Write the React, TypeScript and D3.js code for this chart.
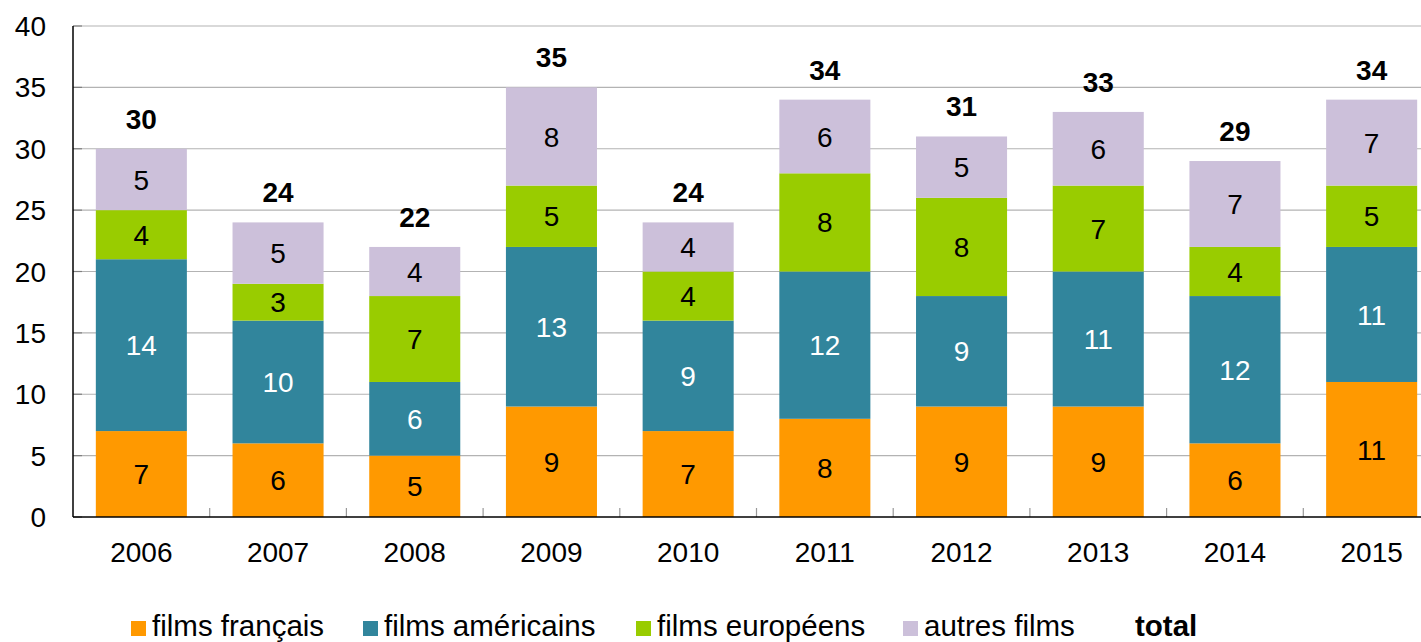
import React, { useEffect, useRef } from "react";
import * as d3 from "d3";

const years = ["2006", "2007", "2008", "2009", "2010", "2011", "2012", "2013", "2014", "2015"];
const francais = [7, 6, 5, 9, 7, 8, 9, 9, 6, 11];
const americains = [14, 10, 6, 13, 9, 12, 9, 11, 12, 11];
const europeens = [4, 3, 7, 5, 4, 8, 8, 7, 4, 5];
const autres = [5, 5, 4, 8, 4, 6, 5, 6, 7, 7];
const totals = [30, 24, 22, 35, 24, 34, 31, 33, 29, 34];
const yTicks = [0, 5, 10, 15, 20, 25, 30, 35, 40];

const seriesNames = ["films français", "films américains", "films européens", "autres films"];
const colors = ["#FF9900", "#31859C", "#99CC00", "#CCC0DA"];
const labelColors = ["#000", "#fff", "#000", "#000"];

const FONT = "'Liberation Sans', Arial, sans-serif";
const FS = 28;

export default function App() {
  const ref = useRef<SVGSVGElement>(null);

  useEffect(() => {
    const svg = d3.select(ref.current);
    svg.selectAll("*").remove();

    const left = 73, right = 1440, top = 26, bottom = 517;
    const x = d3.scaleBand().domain(years).range([left, right]).paddingInner(0.334).paddingOuter(0.167);
    const y = d3.scaleLinear().domain([0, 40]).range([bottom, top]);

    const rows = years.map((yr, i) => ({
      year: yr,
      "films français": francais[i],
      "films américains": americains[i],
      "films européens": europeens[i],
      "autres films": autres[i],
    }));
    const stacked = d3.stack<any>().keys(seriesNames)(rows);

    // gridlines
    svg.append("g").selectAll("line").data(yTicks.filter(t => t > 0)).join("line")
      .attr("x1", left).attr("x2", right)
      .attr("y1", d => y(d)).attr("y2", d => y(d))
      .attr("stroke", "#b3b3b3").attr("stroke-width", 1.2);

    // bars
    stacked.forEach((layer, si) => {
      const g = svg.append("g");
      g.selectAll("rect").data(layer).join("rect")
        .attr("x", (d: any) => x(d.data.year)!)
        .attr("width", x.bandwidth())
        .attr("y", (d: any) => y(d[1]))
        .attr("height", (d: any) => y(d[0]) - y(d[1]))
        .attr("fill", colors[si]);
      g.selectAll("text").data(layer).join("text")
        .attr("x", (d: any) => x(d.data.year)! + x.bandwidth() / 2)
        .attr("y", (d: any) => (y(d[0]) + y(d[1])) / 2)
        .attr("dy", "0.36em")
        .attr("text-anchor", "middle")
        .attr("font-family", FONT).attr("font-size", FS)
        .attr("fill", labelColors[si])
        .text((d: any) => d[1] - d[0]);
    });

    // totals
    svg.append("g").selectAll("text").data(years).join("text")
      .attr("x", d => x(d)! + x.bandwidth() / 2)
      .attr("y", (d, i) => y(totals[i]) - 20)
      .attr("text-anchor", "middle")
      .attr("font-family", FONT).attr("font-size", FS).attr("font-weight", "bold")
      .text((d, i) => totals[i]);

    // y axis
    const ya = svg.append("g");
    ya.selectAll("line.tick").data(yTicks).join("line")
      .attr("x1", left).attr("x2", left + 9)
      .attr("y1", d => y(d)).attr("y2", d => y(d))
      .attr("stroke", "#808080").attr("stroke-width", 1.2);
    ya.selectAll("text").data(yTicks).join("text")
      .attr("x", 46).attr("y", d => y(d))
      .attr("dy", "0.36em").attr("text-anchor", "end")
      .attr("font-family", FONT).attr("font-size", FS)
      .text(d => d);
    ya.append("line").attr("x1", left).attr("x2", left).attr("y1", top).attr("y2", bottom)
      .attr("stroke", "#000").attr("stroke-width", 1.5);

    // x axis
    const xa = svg.append("g");
    const step = x.step();
    xa.selectAll("line").data(d3.range(1, years.length + 1)).join("line")
      .attr("x1", d => left + d * step).attr("x2", d => left + d * step)
      .attr("y1", bottom - 9).attr("y2", bottom)
      .attr("stroke", "#999").attr("stroke-width", 1.2);
    xa.selectAll("text").data(years).join("text")
      .attr("x", d => x(d)! + x.bandwidth() / 2)
      .attr("y", 562)
      .attr("text-anchor", "middle")
      .attr("font-family", FONT).attr("font-size", FS)
      .text(d => d);
    xa.append("line").attr("x1", left).attr("x2", right).attr("y1", bottom).attr("y2", bottom)
      .attr("stroke", "#000").attr("stroke-width", 1.5);

    // legend
    const legendX = [131, 363, 636, 903];
    const lg = svg.append("g");
    seriesNames.forEach((name, i) => {
      lg.append("rect").attr("x", legendX[i]).attr("y", 621).attr("width", 15).attr("height", 15)
        .attr("fill", colors[i]);
      lg.append("text").attr("x", legendX[i] + 21).attr("y", 636)
        .attr("font-family", FONT).attr("font-size", 29.5)
        .text(name);
    });
    lg.append("text").attr("x", 1135).attr("y", 636)
      .attr("font-family", FONT).attr("font-size", 29.5).attr("font-weight", "bold")
      .text("total");
  }, []);

  return (
    <svg ref={ref} width={1421} height={642}
      style={{ position: "absolute", left: 0, top: 0, background: "#fff" }} />
  );
}
